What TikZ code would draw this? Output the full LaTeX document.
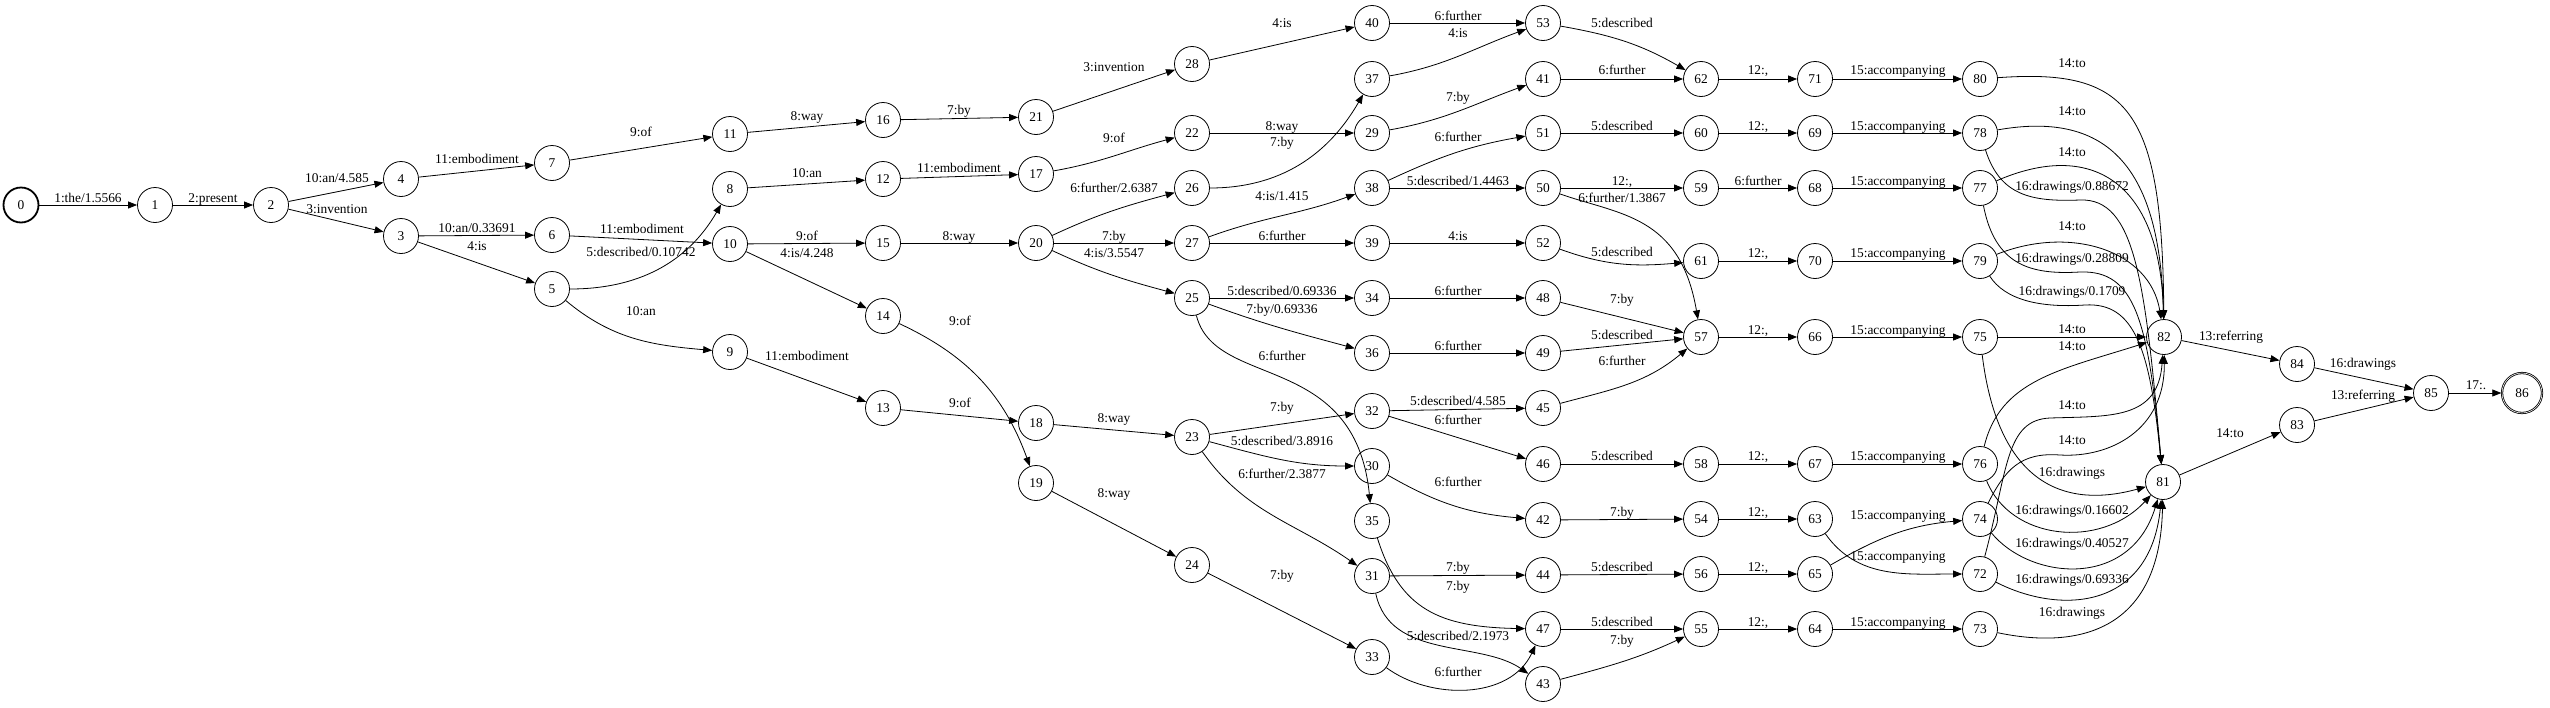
\documentclass[tikz,border=0pt]{standalone}
\usepackage{fontspec}
\setmainfont{Liberation Serif}
\usetikzlibrary{arrows.meta,automata}

\tikzset{
  every state/.style={minimum size=35pt,inner sep=0pt,line width=0.8pt},
  beginstate/.style={line width=1.8pt},
  every accepting by double/.style={double distance=2.4pt},
  lbl/.style={inner sep=0pt,text height=9pt,text depth=3pt}
}

\begin{document}
\begin{tikzpicture}[->,>={Triangle[length=9pt,width=7pt]},x=1pt,y=-1pt,line width=0.8pt,font=\fontsize{13.4}{15}\selectfont]
\useasboundingbox (0,0) rectangle (2550,707);

% states
\node[state,beginstate](n0) at (21,205) {0};
\node[state](n1) at (155,205) {1};
\node[state](n2) at (271,205) {2};
\node[state](n4) at (401,179) {4};
\node[state](n3) at (401,236) {3};
\node[state](n7) at (552,163) {7};
\node[state](n6) at (552,235) {6};
\node[state](n5) at (552,289) {5};
\node[state](n11) at (730,134) {11};
\node[state](n8) at (730,189) {8};
\node[state](n10) at (730,244) {10};
\node[state](n9) at (730,352) {9};
\node[state](n16) at (883,120) {16};
\node[state](n12) at (883,179) {12};
\node[state](n15) at (883,243) {15};
\node[state](n14) at (883,316) {14};
\node[state](n13) at (883,408) {13};
\node[state](n21) at (1036,117) {21};
\node[state](n17) at (1036,174) {17};
\node[state](n20) at (1036,243) {20};
\node[state](n18) at (1036,423) {18};
\node[state](n19) at (1036,483) {19};
\node[state](n28) at (1192,64) {28};
\node[state](n22) at (1192,133) {22};
\node[state](n26) at (1192,188) {26};
\node[state](n27) at (1192,243) {27};
\node[state](n25) at (1192,298) {25};
\node[state](n23) at (1192,437) {23};
\node[state](n24) at (1192,565) {24};
\node[state](n40) at (1372,23) {40};
\node[state](n37) at (1372,79) {37};
\node[state](n29) at (1372,133) {29};
\node[state](n38) at (1372,188) {38};
\node[state](n39) at (1372,243) {39};
\node[state](n34) at (1372,298) {34};
\node[state](n36) at (1372,353) {36};
\node[state](n32) at (1372,411) {32};
\node[state](n30) at (1372,466) {30};
\node[state](n35) at (1372,521) {35};
\node[state](n31) at (1372,576) {31};
\node[state](n33) at (1372,657) {33};
\node[state](n53) at (1543,23) {53};
\node[state](n41) at (1543,79) {41};
\node[state](n51) at (1543,133) {51};
\node[state](n50) at (1543,188) {50};
\node[state](n52) at (1543,243) {52};
\node[state](n48) at (1543,298) {48};
\node[state](n49) at (1543,353) {49};
\node[state](n45) at (1543,408) {45};
\node[state](n46) at (1543,464) {46};
\node[state](n42) at (1543,520) {42};
\node[state](n44) at (1543,575) {44};
\node[state](n47) at (1543,629) {47};
\node[state](n43) at (1543,684) {43};
\node[state](n62) at (1701,79) {62};
\node[state](n60) at (1701,133) {60};
\node[state](n59) at (1701,188) {59};
\node[state](n61) at (1701,261) {61};
\node[state](n57) at (1701,337) {57};
\node[state](n58) at (1701,464) {58};
\node[state](n54) at (1701,519) {54};
\node[state](n56) at (1701,574) {56};
\node[state](n55) at (1701,629) {55};
\node[state](n71) at (1815,79) {71};
\node[state](n69) at (1815,133) {69};
\node[state](n68) at (1815,188) {68};
\node[state](n70) at (1815,261) {70};
\node[state](n66) at (1815,337) {66};
\node[state](n67) at (1815,464) {67};
\node[state](n63) at (1815,519) {63};
\node[state](n65) at (1815,574) {65};
\node[state](n64) at (1815,629) {64};
\node[state](n80) at (1980,79) {80};
\node[state](n78) at (1980,133) {78};
\node[state](n77) at (1980,188) {77};
\node[state](n79) at (1980,261) {79};
\node[state](n75) at (1980,337) {75};
\node[state](n76) at (1980,464) {76};
\node[state](n74) at (1980,519) {74};
\node[state](n72) at (1980,574) {72};
\node[state](n73) at (1980,629) {73};
\node[state](n82) at (2164,337) {82};
\node[state](n81) at (2163,482) {81};
\node[state](n84) at (2297,364) {84};
\node[state](n83) at (2297,425) {83};
\node[state](n85) at (2431,393) {85};
\node[state,accepting,minimum size=40pt](n86) at (2522,393) {86};

% arcs
\draw (n0) edge (n1);
\draw (n1) edge (n2);
\draw (n2) edge (n4);
\draw (n2) edge (n3);
\draw (n4) edge (n7);
\draw (n3) edge (n6);
\draw (n3) edge (n5);
\draw (n7) edge (n11);
\draw (n6) edge (n10);
\draw (n5) edge[out=0,in=-120] (n8);
\draw (n5) edge[out=-40,in=175] (n9);
\draw (n8) edge (n12);
\draw (n11) edge (n16);
\draw (n10) edge (n15);
\draw (n10) edge (n14);
\draw (n9) edge (n13);
\draw (n16) edge (n21);
\draw (n12) edge (n17);
\draw (n15) edge (n20);
\draw (n14) edge[out=-25,in=110] (n19);
\draw (n13) edge (n18);
\draw (n21) edge (n28);
\draw (n17) edge[out=10,in=195] (n22);
\draw (n20) edge[out=25,in=195] (n26);
\draw (n20) edge (n27);
\draw (n20) edge[out=-25,in=165] (n25);
\draw (n18) edge (n23);
\draw (n19) edge (n24);
\draw (n28) edge (n40);
\draw (n22) edge (n29);
\draw (n26) edge[out=0,in=-120] (n37);
\draw (n27) edge[out=20,in=200] (n38);
\draw (n27) edge (n39);
\draw (n25) edge (n34);
\draw (n25) edge[out=-20,in=165] (n36);
\draw (n25) .. controls (1215,390) and (1355,350) .. (n35);
\draw (n23) edge (n32);
\draw (n23) edge[out=-15,in=180] (n30);
\draw (n23) edge[out=-55,in=145] (n31);
\draw (n24) edge (n33);
\draw (n40) edge (n53);
\draw (n37) edge[out=10,in=200] (n53);
\draw (n29) edge[out=10,in=200] (n41);
\draw (n38) edge[out=25,in=190] (n51);
\draw (n38) edge (n50);
\draw (n39) edge (n52);
\draw (n34) edge (n48);
\draw (n36) edge (n49);
\draw (n32) edge (n45);
\draw (n32) edge (n46);
\draw (n30) edge[out=-30,in=175] (n42);
\draw (n31) edge (n44);
\draw (n35) .. controls (1400,610) and (1440,627) .. (n47);
\draw (n31) .. controls (1390,660) and (1480,640) .. (n43);
\draw (n33) .. controls (1430,700) and (1510,700) .. (n47);
\draw (n53) edge[out=-10,in=150] (n62);
\draw (n41) edge (n62);
\draw (n51) edge (n60);
\draw (n50) edge (n59);
\draw (n50) .. controls (1620,215) and (1680,215) .. (n57);
\draw (n52) edge[out=-20,in=185] (n61);
\draw (n48) edge (n57);
\draw (n49) edge (n57);
\draw (n45) edge[out=15,in=-140] (n57);
\draw (n46) edge (n58);
\draw (n42) edge (n54);
\draw (n44) edge (n56);
\draw (n47) edge (n55);
\draw (n43) edge[out=15,in=-155] (n55);
\draw (n62) edge (n71);
\draw (n60) edge (n69);
\draw (n59) edge (n68);
\draw (n61) edge (n70);
\draw (n57) edge (n66);
\draw (n58) edge (n67);
\draw (n54) edge (n63);
\draw (n56) edge (n65);
\draw (n55) edge (n64);
\draw (n71) edge (n80);
\draw (n69) edge (n78);
\draw (n68) edge (n77);
\draw (n70) edge (n79);
\draw (n66) edge (n75);
\draw (n67) edge (n76);
\draw (n65) edge[out=30,in=185] (n74);
\draw (n63) edge[out=-55,in=180] (n72);
\draw (n64) edge (n73);
\draw (n80) .. controls (2130,68) and (2162,110) .. (n82);
\draw (n78) .. controls (2110,110) and (2160,170) .. (n82);
\draw (n77) .. controls (2090,140) and (2160,180) .. (n82);
\draw (n79) .. controls (2070,225) and (2150,250) .. (n82);
\draw (n75) edge (n82);
\draw (n76) .. controls (2000,380) and (2060,370) .. (n82);
\draw (n72) .. controls (2008,470) and (2005,420) .. (2050,418) .. controls (2110,416) and (2158,420) .. (n82);
\draw (n74) .. controls (2005,470) and (2020,452) .. (2060,455) .. controls (2110,458) and (2165,430) .. (n82);
\draw (n78) .. controls (2000,195) and (2030,202) .. (2080,200) .. controls (2135,198) and (2145,280) .. (n81);
\draw (n77) .. controls (1995,265) and (2030,275) .. (2080,272) .. controls (2135,270) and (2148,320) .. (n81);
\draw (n79) .. controls (2005,300) and (2040,308) .. (2085,305) .. controls (2135,302) and (2150,350) .. (n81);
\draw (n75) .. controls (2000,500) and (2080,505) .. (n81);
\draw (n76) .. controls (2010,540) and (2100,550) .. (n81);
\draw (n74) .. controls (2030,580) and (2130,590) .. (n81);
\draw (n72) .. controls (2060,615) and (2150,610) .. (n81);
\draw (n73) .. controls (2080,650) and (2160,630) .. (n81);
\draw (n82) edge (n84);
\draw (n81) edge (n83);
\draw (n84) edge (n85);
\draw (n83) edge (n85);
\draw (n85) edge (n86);

% arc labels
\node[lbl](l0-1) at (88,199) {1:the/1.5566};
\node[lbl](l1-2) at (213,199) {2:present};
\node[lbl](l2-4) at (337,179) {10:an/4.585};
\node[lbl](l2-3) at (337,210) {3:invention};
\node[lbl](l4-7) at (477,160) {11:embodiment};
\node[lbl](l3-6) at (477,229) {10:an/0.33691};
\node[lbl](l3-5) at (477,247) {4:is};
\node[lbl](l7-11) at (641,133) {9:of};
\node[lbl](l6-10) at (642,230) {11:embodiment};
\node[lbl](l5-8) at (641,253) {5:described/0.10742};
\node[lbl](l5-9) at (641,312) {10:an};
\node[lbl](l8-12) at (807,174) {10:an};
\node[lbl](l11-16) at (807,117) {8:way};
\node[lbl](l10-15) at (807,237) {9:of};
\node[lbl](l10-14) at (807,254) {4:is/4.248};
\node[lbl](l9-13) at (807,357) {11:embodiment};
\node[lbl](l16-21) at (959,111) {7:by};
\node[lbl](l12-17) at (959,169) {11:embodiment};
\node[lbl](l15-20) at (959,237) {8:way};
\node[lbl](l14-19) at (960,322) {9:of};
\node[lbl](l13-18) at (960,404) {9:of};
\node[lbl](l21-28) at (1114,68) {3:invention};
\node[lbl](l17-22) at (1114,139) {9:of};
\node[lbl](l20-26) at (1114,189) {6:further/2.6387};
\node[lbl](l20-27) at (1114,237) {7:by};
\node[lbl](l20-25) at (1114,254) {4:is/3.5547};
\node[lbl](l18-23) at (1114,419) {8:way};
\node[lbl](l19-24) at (1114,494) {8:way};
\node[lbl](l28-40) at (1282,24) {4:is};
\node[lbl](l22-29) at (1282,127) {8:way};
\node[lbl](l26-37) at (1282,143) {7:by};
\node[lbl](l27-38) at (1282,197) {4:is/1.415};
\node[lbl](l27-39) at (1282,237) {6:further};
\node[lbl](l25-34) at (1282,292) {5:described/0.69336};
\node[lbl](l25-36) at (1282,310) {7:by/0.69336};
\node[lbl](l25-35) at (1282,357) {6:further};
\node[lbl](l23-32) at (1282,408) {7:by};
\node[lbl](l23-30) at (1282,442) {5:described/3.8916};
\node[lbl](l23-31) at (1282,475) {6:further/2.3877};
\node[lbl](l24-33) at (1282,576) {7:by};
\node[lbl](l40-53) at (1458,17) {6:further};
\node[lbl](l37-53) at (1458,34) {4:is};
\node[lbl](l29-41) at (1458,98) {7:by};
\node[lbl](l38-51) at (1458,138) {6:further};
\node[lbl](l38-50) at (1458,182) {5:described/1.4463};
\node[lbl](l39-52) at (1458,237) {4:is};
\node[lbl](l34-48) at (1458,292) {6:further};
\node[lbl](l36-49) at (1458,347) {6:further};
\node[lbl](l32-45) at (1458,402) {5:described/4.585};
\node[lbl](l32-46) at (1458,421) {6:further};
\node[lbl](l30-42) at (1458,483) {6:further};
\node[lbl](l31-44) at (1458,568) {7:by};
\node[lbl](l35-47) at (1458,587) {7:by};
\node[lbl](l31-43) at (1458,637) {5:described/2.1973};
\node[lbl](l33-47) at (1458,673) {6:further};
\node[lbl](l53-62) at (1622,24) {5:described};
\node[lbl](l41-62) at (1622,71) {6:further};
\node[lbl](l51-60) at (1622,127) {5:described};
\node[lbl](l50-59) at (1622,182) {12:,};
\node[lbl](l50-57) at (1622,199) {6:further/1.3867};
\node[lbl](l52-61) at (1622,253) {5:described};
\node[lbl](l48-57) at (1622,300) {7:by};
\node[lbl](l49-57) at (1622,336) {5:described};
\node[lbl](l45-57) at (1622,362) {6:further};
\node[lbl](l46-58) at (1622,457) {5:described};
\node[lbl](l42-54) at (1622,513) {7:by};
\node[lbl](l44-56) at (1622,568) {5:described};
\node[lbl](l47-55) at (1622,623) {5:described};
\node[lbl](l43-55) at (1622,641) {7:by};
\node[lbl](l62-71) at (1758,71) {12:,};
\node[lbl](l60-69) at (1758,127) {12:,};
\node[lbl](l59-68) at (1758,182) {6:further};
\node[lbl](l61-70) at (1758,254) {12:,};
\node[lbl](l57-66) at (1758,331) {12:,};
\node[lbl](l58-67) at (1758,457) {12:,};
\node[lbl](l54-63) at (1758,513) {12:,};
\node[lbl](l56-65) at (1758,568) {12:,};
\node[lbl](l55-64) at (1758,623) {12:,};
\node[lbl](l71-80) at (1898,71) {15:accompanying};
\node[lbl](l69-78) at (1898,127) {15:accompanying};
\node[lbl](l68-77) at (1898,182) {15:accompanying};
\node[lbl](l70-79) at (1898,254) {15:accompanying};
\node[lbl](l66-75) at (1898,331) {15:accompanying};
\node[lbl](l67-76) at (1898,457) {15:accompanying};
\node[lbl](l65-74) at (1898,516) {15:accompanying};
\node[lbl](l63-72) at (1898,557) {15:accompanying};
\node[lbl](l64-73) at (1898,623) {15:accompanying};
\node[lbl](l80-82) at (2072,64) {14:to};
\node[lbl](l78-82) at (2072,112) {14:to};
\node[lbl](l77-82) at (2072,153) {14:to};
\node[lbl](l78-81) at (2072,187) {16:drawings/0.88672};
\node[lbl](l79-82) at (2072,227) {14:to};
\node[lbl](l77-81) at (2072,259) {16:drawings/0.28809};
\node[lbl](l79-81) at (2072,292) {16:drawings/0.1709};
\node[lbl](l75-82) at (2072,330) {14:to};
\node[lbl](l76-82) at (2072,347) {14:to};
\node[lbl](l72-82) at (2072,406) {14:to};
\node[lbl](l74-82) at (2072,441) {14:to};
\node[lbl](l75-81) at (2072,473) {16:drawings};
\node[lbl](l76-81) at (2072,511) {16:drawings/0.16602};
\node[lbl](l74-81) at (2072,544) {16:drawings/0.40527};
\node[lbl](l72-81) at (2072,580) {16:drawings/0.69336};
\node[lbl](l73-81) at (2072,613) {16:drawings};
\node[lbl](l82-84) at (2231,337) {13:referring};
\node[lbl](l81-83) at (2230,434) {14:to};
\node[lbl](l84-85) at (2363,364) {16:drawings};
\node[lbl](l83-85) at (2363,396) {13:referring};
\node[lbl](l85-86) at (2476,386) {17:.};
\end{tikzpicture}
\end{document}
